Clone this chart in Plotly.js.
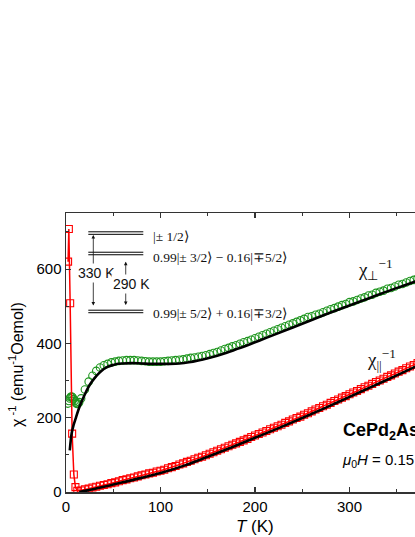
<!DOCTYPE html>
<html>
<head>
<meta charset="utf-8">
<script src="https://cdn.plot.ly/plotly-3.0.1.min.js"></script>
<style>
html,body{margin:0;padding:0;overflow:hidden;background:#fff;width:415px;height:537px;}
#chart{width:444px;height:537px;}
</style>
</head>
<body>
<div id="chart"></div>
<script>
// chi_perp^-1 data (green circles)
var greenT = [2,3,4,5,6,7,8,9,10,11,12,13,14,
16,20,24,28,32,36,40,44,48,52,56,60,64,68,72,76,80,84,88,92,96,100,
104,108,112,116,120,124,128,132,136,140,144,148,152,156,160,164,168,172,176,180,
184,188,192,196,200,204,208,212,216,220,224,228,232,236,240,244,248,252,256,260,
264,268,272,276,280,284,288,292,296,300,304,308,312,316,320,324,328,332,336,340,
344,348,352,356,360,364,368,372];
var greenChi = [238,245,252,256,257,255,250,245,241,238,237,238,242,
252,276,297,313,326,335,341,345,349,351,353,354,355,355,355,354,353,352,351,351,351,351,
352,353,354,355,356,357,359,361,362,364,366,368,371,374,377,381,385,388,392,395,
399,403,406,410,414,418,422,426,430,434,438,442,446,450,454,458,462,466,471,473,
477,480,484,488,492,495,499,503,506,511,513,517,521,524,529,531,536,539,542,547,
549,553,558,560,564,568,571,575];

// chi_par^-1 data (red squares)
var redT = [2.2,3,4.4,6.5,8.3,10,12,
16,20,24,28,32,36,40,44,48,52,56,60,64,68,72,76,80,84,88,92,96,100,
104,108,112,116,120,124,128,132,136,140,144,148,152,156,160,164,168,172,176,180,
184,188,192,196,200,204,208,212,216,220,224,228,232,236,240,244,248,252,256,260,
264,268,272,276,280,284,288,292,296,300,304,308,312,316,320,324,328,332,336,340,
344,348,352,356,360,364,368,372];
var redChi = [620,708,508,157,47,13,3,
4,7,9,12,14,17,19,21,24,26,29,32,34,37,39,42,45,47,50,52,55,57,
60,64,67,70,74,77,81,84,88,92,95,99,103,107,111,115,119,123,127,131,
135,139,143,148,152,156,160,164,169,173,177,181,186,190,195,199,203,208,212,217,
222,226,231,235,240,245,249,254,258,263,268,272,277,282,286,291,296,300,305,310,
314,319,324,328,333,338,342,347];

// CEF fits (black lines)
var fitPerpT = [4,6,8,10,13,16,20,25,30,35,40,45,50,55,60,70,80,90,100,110,120,130,140,150,160,170,180,190,200,210,220,240,260,280,300,320,340,360,372];
var fitPerpChi = [112,158,180,196,220,240,263,288,306,320,331,338,342,345,346,347,346,345,345,345,346,349,354,360,367,375,384,393,403,413,423,443,463,483,502,521,540,558,569];
var fitParT = [14,20,30,40,50,60,80,100,125,150,175,200,225,250,275,300,325,350,372];
var fitParChi = [0,3,8,14,20,26,38,51,71,95,120,146,172,199,227,256,285,314,340];

// CEF level scheme (drawn on the chi axis scale of the inset)
var levelY = [697, 642, 486];
var levelLabels = ['|± 1/2⟩', '0.99|± 3/2⟩ − 0.16|∓5/2⟩', '0.99|± 5/2⟩ + 0.16|∓3/2⟩'];
var levelLabelY = [688, 630, 481];
var gapLabels = ['330 K', '290 K'];

var levelX0 = 23.6, levelX1 = 81.8, halfGap = 3.4;
var shapes = [];
levelY.forEach(function(y){
  [-halfGap, halfGap].forEach(function(d){
    shapes.push({type:'line', xref:'x', yref:'y', x0:levelX0, x1:levelX1, y0:y+d, y1:y+d,
      line:{color:'#000', width:1}});
  });
});

var sans = 'Liberation Sans, Arial, sans-serif';
var serif = 'Liberation Serif, Times New Roman, serif';

var annotations = [];
levelLabels.forEach(function(t,i){
  annotations.push({x:90, y:levelLabelY[i], xref:'x', yref:'y', text:t, showarrow:false,
    xanchor:'left', yanchor:'middle', font:{family:serif, size:13.5, color:'#111'}});
});
// double-headed arrows
annotations.push({x:28.9, y:692, ax:28.9, ay:498, xref:'x', yref:'y', axref:'x', ayref:'y',
  text:'', showarrow:true, arrowhead:2, arrowsize:0.9, arrowwidth:0.8, arrowside:'end+start', arrowcolor:'#111', standoff:0, startstandoff:0});
annotations.push({x:63.2, y:620, ax:63.2, ay:499, xref:'x', yref:'y', axref:'x', ayref:'y',
  text:'', showarrow:true, arrowhead:2, arrowsize:0.9, arrowwidth:0.8, arrowside:'end+start', arrowcolor:'#111', standoff:0, startstandoff:0});
annotations.push({x:32.3, y:589, xref:'x', yref:'y', text:gapLabels[0], showarrow:false,
  bgcolor:'#fff', borderpad:1, font:{family:sans, size:14, color:'#111'}});
annotations.push({x:69.5, y:560, xref:'x', yref:'y', text:gapLabels[1], showarrow:false,
  bgcolor:'#fff', borderpad:1, font:{family:sans, size:14, color:'#111'}});
// curve labels
annotations.push({x:307, y:598, xref:'x', yref:'y', text:'χ<sub>⊥</sub><sup>−1</sup>', showarrow:false,
  xanchor:'left', yanchor:'middle', font:{family:serif, size:19, color:'#111'}});
annotations.push({x:316, y:358, xref:'x', yref:'y', text:'χ<sub>||</sub><sup>−1</sup>', showarrow:false,
  xanchor:'left', yanchor:'middle', font:{family:serif, size:19, color:'#111'}});
// sample / field
annotations.push({x:291.5, y:163, xref:'x', yref:'y', text:'<b>CePd<sub>2</sub>As<sub>2</sub></b>', showarrow:false,
  xanchor:'left', yanchor:'middle', font:{family:sans, size:18, color:'#000'}});
annotations.push({x:290, y:85, xref:'x', yref:'y', text:'<i>μ</i><sub>0</sub><i>H</i> = 0.15 T', showarrow:false,
  xanchor:'left', yanchor:'middle', font:{family:sans, size:15, color:'#000'}});
// axis titles
annotations.push({x:-50/378, y:0.455, xref:'paper', yref:'paper', text:'χ<sup> -1</sup> (emu<sup>-1</sup>Oemol)', showarrow:false,
  textangle:-90, xanchor:'center', yanchor:'middle', font:{family:sans, size:16, color:'#000'}});
annotations.push({x:0.5, y:-0.122, xref:'paper', yref:'paper', text:'<i>T</i> (K)', showarrow:false,
  xanchor:'center', yanchor:'middle', font:{family:sans, size:17, color:'#000'}});

var traces = [
  {x:greenT, y:greenChi, type:'scatter', mode:'markers', cliponaxis:true,
    marker:{symbol:'circle-open', size:7.5, color:'#1e961e', line:{width:1.1}}},
  {x:redT, y:redChi, type:'scatter', mode:'lines+markers', cliponaxis:true,
    line:{color:'#ff0000', width:1.5},
    marker:{symbol:'square-open', size:7, color:'#ff0000', line:{width:1.1}}},
  {x:fitPerpT, y:fitPerpChi, type:'scatter', mode:'lines', line:{color:'#000', width:2.6, shape:'spline'}},
  {x:fitParT, y:fitParChi, type:'scatter', mode:'lines', line:{color:'#000', width:2.6, shape:'spline'}}
];

var axisCommon = {
  showgrid:false, zeroline:false, showline:true, linecolor:'#333', linewidth:1.5,
  mirror:'ticks', ticks:'inside', ticklen:5, tickwidth:1.2, tickcolor:'#333',
  tickfont:{family:sans, size:15, color:'#000'}
};
var layout = {
  width:444, height:537,
  margin:{l:66, r:0, t:213, b:45},
  paper_bgcolor:'#fff', plot_bgcolor:'#fff',
  showlegend:false,
  xaxis:Object.assign({}, axisCommon, {range:[0,400], dtick:100, tick0:0,
    minor:{dtick:50, ticks:'inside', ticklen:3, tickcolor:'#333', tickwidth:1}}),
  yaxis:Object.assign({}, axisCommon, {range:[0,751], dtick:200, tick0:0,
    minor:{dtick:100, ticks:'inside', ticklen:3, tickcolor:'#333', tickwidth:1}}),
  shapes:shapes,
  annotations:annotations
};
Plotly.newPlot('chart', traces, layout, {displayModeBar:false, staticPlot:true});
</script>
</body>
</html>
